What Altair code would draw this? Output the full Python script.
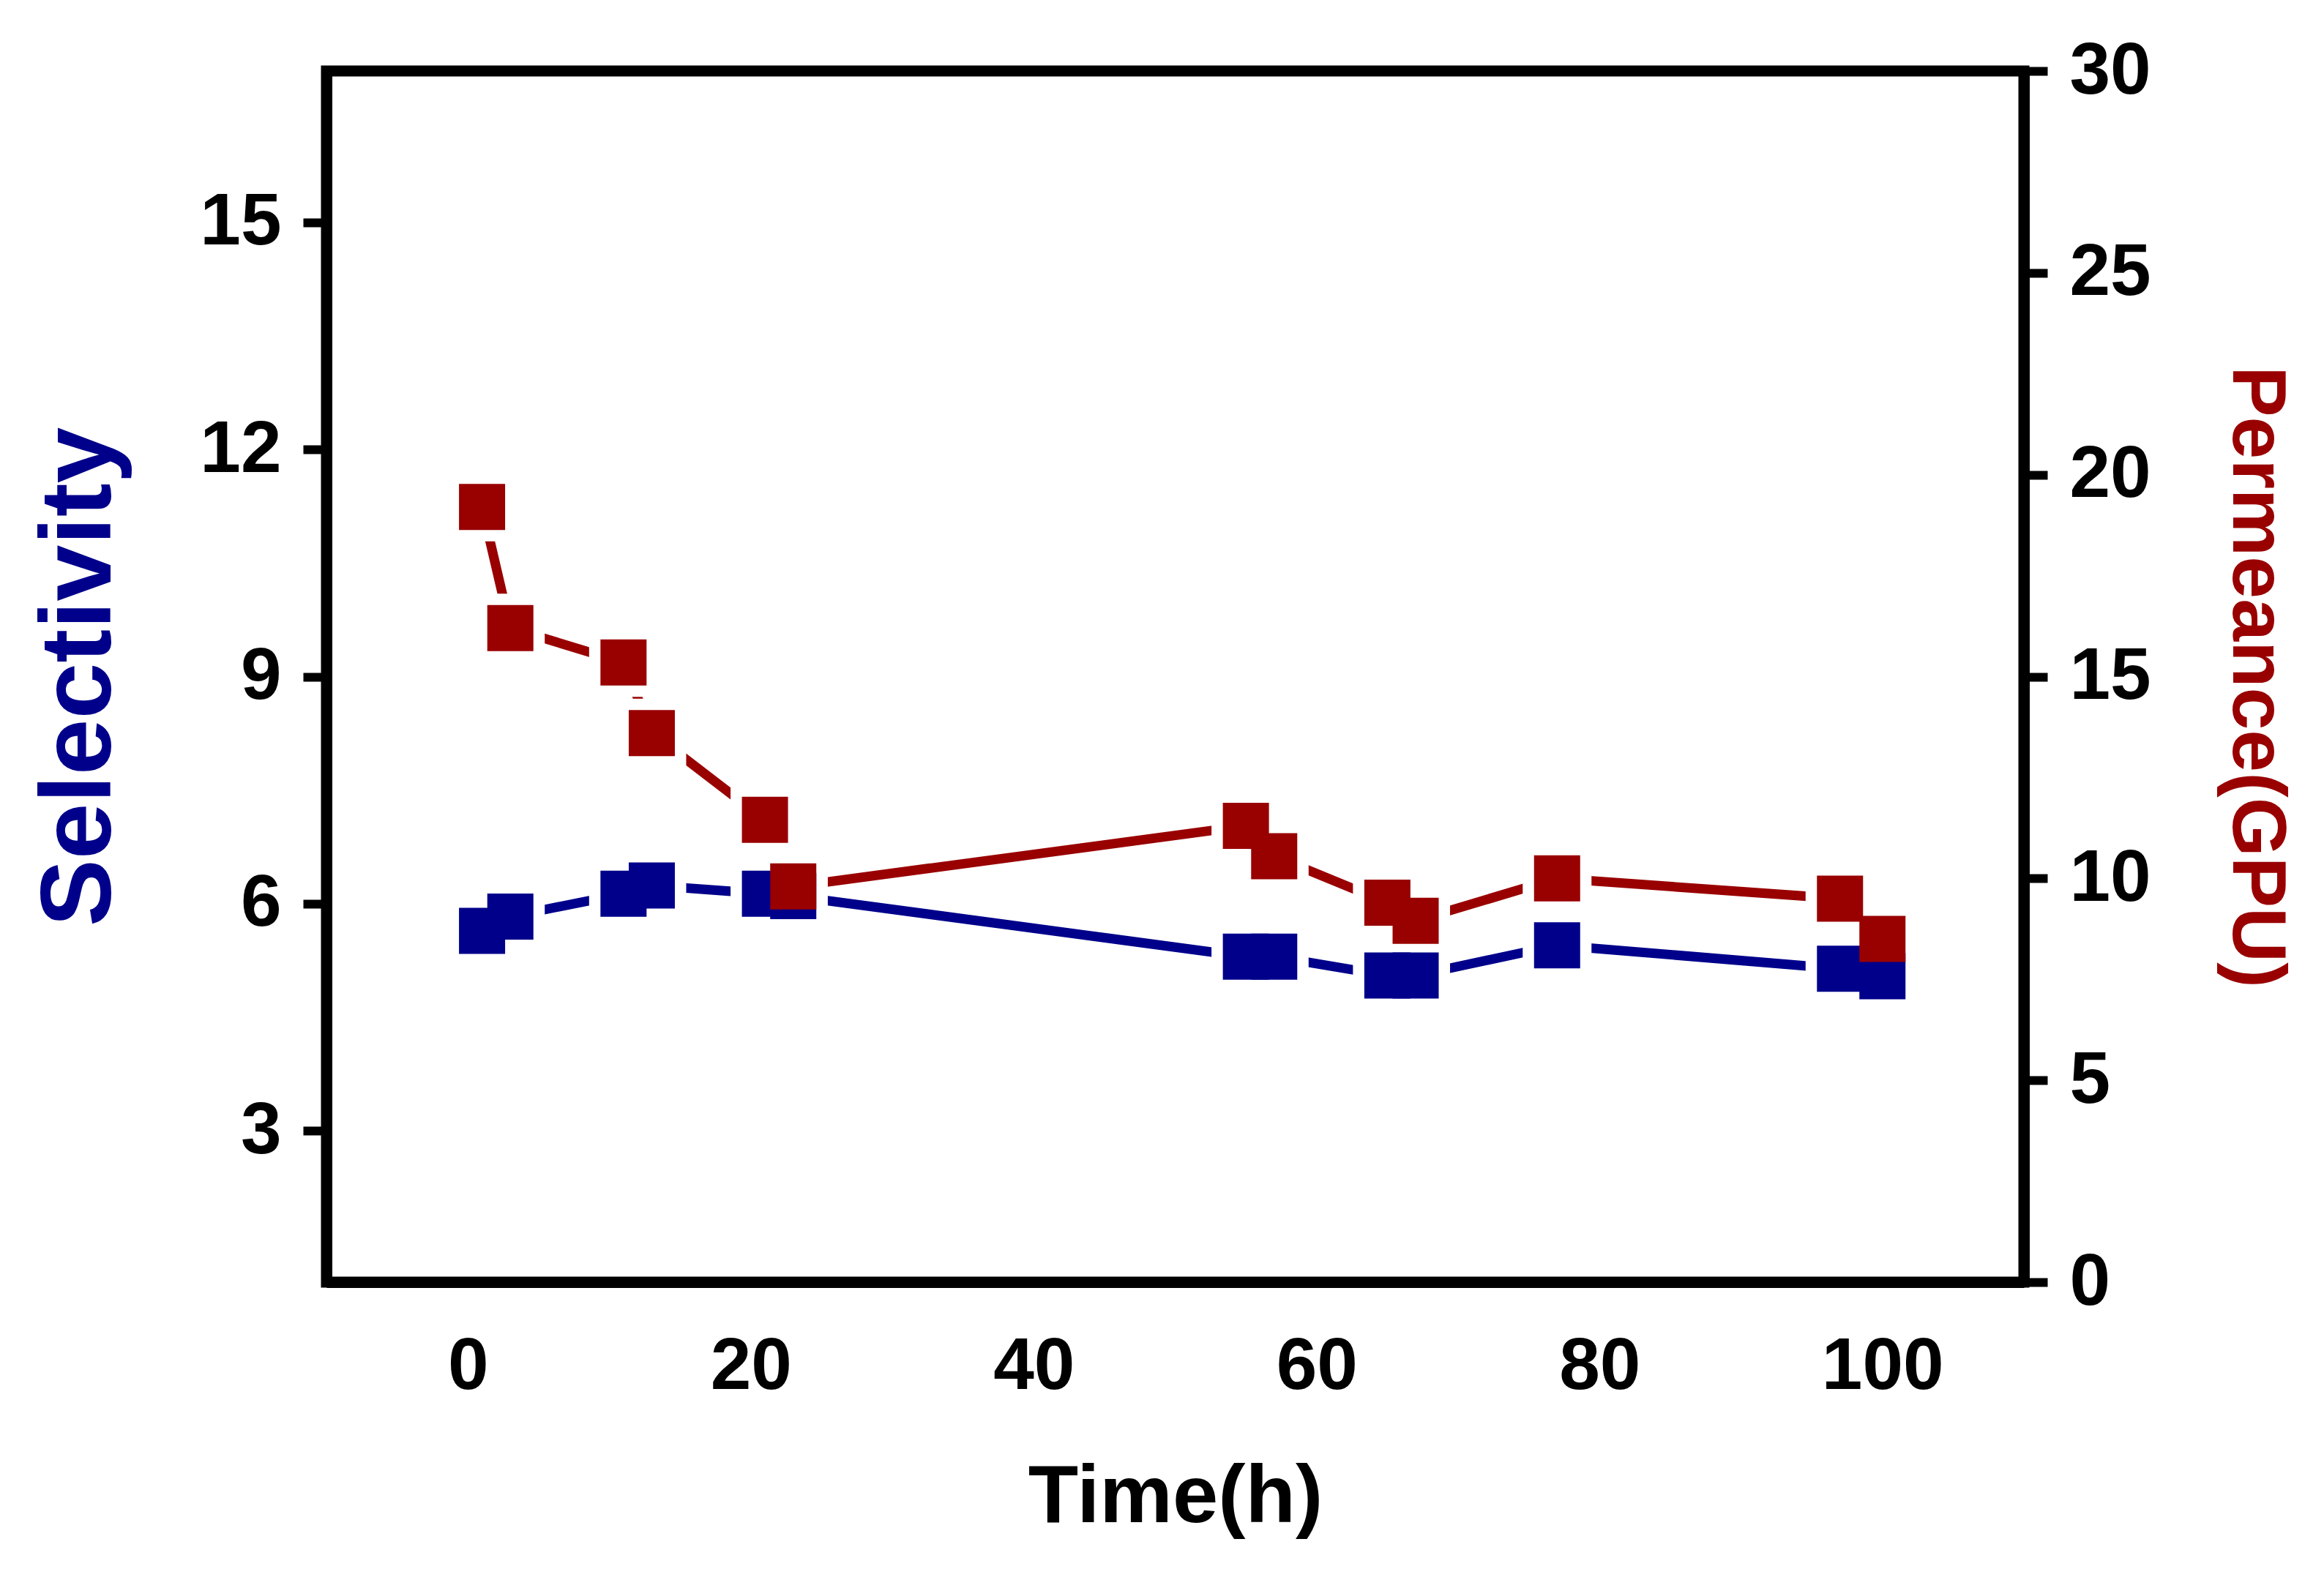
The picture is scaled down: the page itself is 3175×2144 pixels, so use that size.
import altair as alt
import pandas as pd

time_h = [1, 3, 11, 13, 21, 23, 55, 57, 65, 67, 77, 97, 100]
selectivity = [5.64, 5.83, 6.13, 6.24, 6.13, 6.10, 5.30, 5.30, 5.05, 5.05, 5.45, 5.14, 5.04]
permeance = [19.2, 16.2, 15.35, 13.6, 11.45, 9.8, 11.3, 10.55, 9.4, 8.95, 10.0, 9.5, 8.5]

x_ticks = [0, 20, 40, 60, 80, 100]
sel_ticks = [3, 6, 9, 12, 15]
perm_ticks = [0, 5, 10, 15, 20, 25, 30]

BLUE = "#00008B"
RED = "#990000"
FONT = "Liberation Sans"

df = pd.DataFrame({"t": time_h, "sel": selectivity, "perm": permeance})

x_enc = alt.X("t:Q", scale=alt.Scale(domain=[-10, 110], nice=False, zero=False),
              axis=alt.Axis(values=x_ticks, title="Time(h)", ticks=False,
                            labelPadding=66, titlePadding=74, titleFontSize=112))

sel_scale = alt.Scale(domain=[1, 17], nice=False, zero=False)
perm_scale = alt.Scale(domain=[0, 30], nice=False, zero=False)

base = alt.Chart(df)

blue_line = base.mark_line(color=BLUE, strokeWidth=13).encode(
    x=x_enc, y=alt.Y("sel:Q", scale=sel_scale, axis=None))
red_line = base.mark_line(color=RED, strokeWidth=13).encode(
    x=x_enc, y=alt.Y("perm:Q", scale=perm_scale, axis=None))
blue_halo = base.mark_point(shape="square", filled=True, color="white", opacity=1, size=8836).encode(
    x=x_enc, y=alt.Y("sel:Q", scale=sel_scale, axis=None))
red_halo = base.mark_point(shape="square", filled=True, color="white", opacity=1, size=8836).encode(
    x=x_enc, y=alt.Y("perm:Q", scale=perm_scale, axis=None))
blue_pts = base.mark_point(shape="square", filled=True, color=BLUE, opacity=1, size=3969).encode(
    x=x_enc,
    y=alt.Y("sel:Q", scale=sel_scale,
            axis=alt.Axis(orient="left", values=sel_ticks, title="Selectivity",
                          titleColor=BLUE, titleFontSize=138, titlePadding=93,
                          labelPadding=30)))
red_pts = base.mark_point(shape="square", filled=True, color=RED, opacity=1, size=3969).encode(
    x=x_enc,
    y=alt.Y("perm:Q", scale=perm_scale,
            axis=alt.Axis(orient="right", values=perm_ticks, title="Permeance(GPU)",
                          titleColor=RED, titleFontSize=104, titlePadding=90,
                          labelPadding=30)))

chart = alt.layer(blue_line, red_line, blue_halo, red_halo, blue_pts, red_pts).resolve_scale(
    y="independent"
).properties(
    width=2319, height=1655,
    autosize=alt.AutoSizeParams(type="none"),
    padding={"left": 438, "top": 89, "right": 400, "bottom": 370},
).configure_view(
    stroke="black", strokeWidth=15
).configure_axis(
    grid=False,
    domainColor="black", domainWidth=15,
    tickColor="black", tickWidth=12, tickSize=32,
    labelFont=FONT, labelFontWeight="bold", labelFontSize=100, labelColor="black",
    titleFont=FONT, titleFontWeight="bold",
)

chart.save("out.html", embed_options={"renderer": "svg", "actions": False})
